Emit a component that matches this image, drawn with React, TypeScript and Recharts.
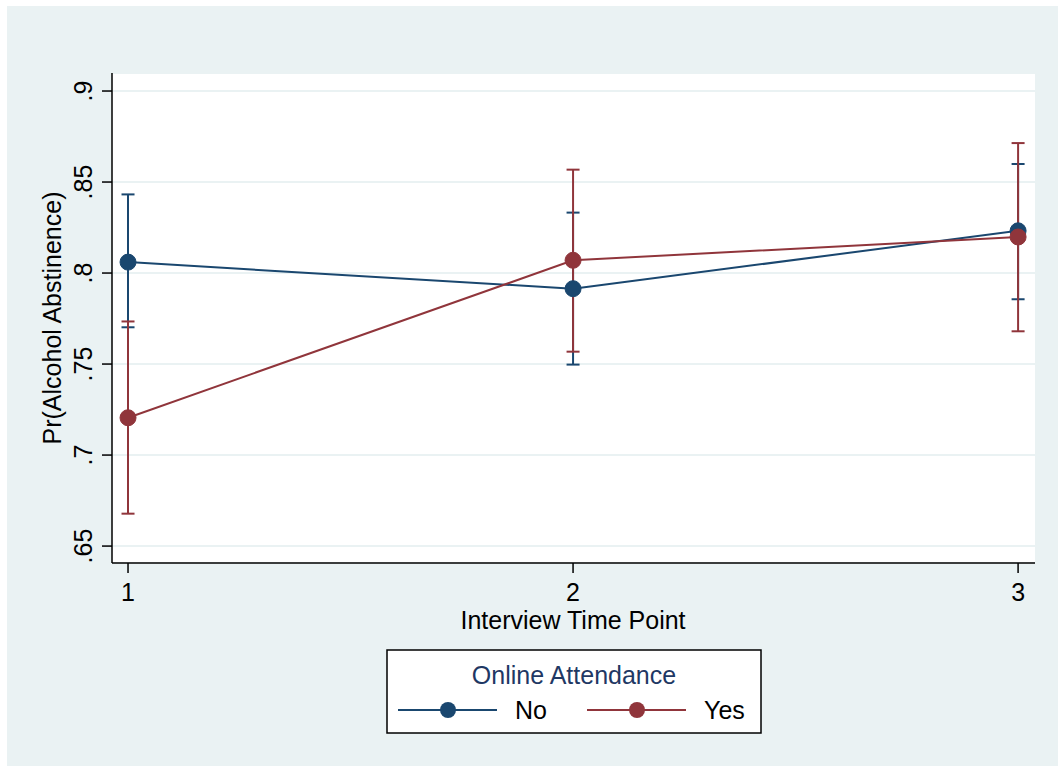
import React from 'react';
import { LineChart, Line, XAxis, YAxis, CartesianGrid, ErrorBar } from 'recharts';

// interview time points
const TIME_POINTS = [1, 2, 3];

// Online Attendance = No
const NO_MEAN = [0.806, 0.7914, 0.8232];
const NO_LOW = [0.7702, 0.7497, 0.7856];
const NO_HIGH = [0.8432, 0.8332, 0.8599];

// Online Attendance = Yes
const YES_MEAN = [0.7205, 0.807, 0.8198];
const YES_LOW = [0.6678, 0.7568, 0.768];
const YES_HIGH = [0.7734, 0.8568, 0.8714];

const Y_TICKS = [0.65, 0.7, 0.75, 0.8, 0.85, 0.9];
const SERIES_NAMES = ['No', 'Yes'];

const NAVY = '#1a476f';
const MAROON = '#90353b';
const BG = '#eaf2f3';
const FONT = '"Liberation Sans", Arial, sans-serif';

const data = TIME_POINTS.map((t, i) => ({
  t,
  no: NO_MEAN[i],
  yes: YES_MEAN[i],
  noErr: [NO_MEAN[i] - NO_LOW[i], NO_HIGH[i] - NO_MEAN[i]],
  yesErr: [YES_MEAN[i] - YES_LOW[i], YES_HIGH[i] - YES_MEAN[i]],
}));

const fmtY = (v: number) => String(v).replace(/^0/, '');

const YTick = (props: any) => {
  const { x, y, payload } = props;
  const bx = x - 8;
  return (
    <text x={bx} y={y} transform={`rotate(-90 ${bx} ${y})`} textAnchor="middle"
      fontFamily={FONT} fontSize={25} fill="#000">
      {fmtY(payload.value)}
    </text>
  );
};

const XTick = (props: any) => {
  const { x, payload } = props;
  return (
    <text x={x} y={601} textAnchor="middle" fontFamily={FONT} fontSize={25} fill="#000">
      {payload.value}
    </text>
  );
};

const Dot = (color: string) => (props: any) => {
  const { cx, cy } = props;
  if (cx == null || cy == null) return null;
  return <circle key={`${cx}-${cy}`} cx={cx} cy={cy} r={8} fill={color} stroke={color} strokeWidth={1} />;
};

const LegendBox = () => {
  const colors = [NAVY, MAROON];
  const itemX = [398, 587];
  return (
    <svg width={1058} height={766} style={{ position: 'absolute', left: 0, top: 0, pointerEvents: 'none' }}>
      {/* axis titles */}
      <text x={61} y={318} transform="rotate(-90 61 318)" textAnchor="middle" fontFamily={FONT} fontSize={25} fill="#000">
        Pr(Alcohol Abstinence)
      </text>
      <text x={573} y={629} textAnchor="middle" fontFamily={FONT} fontSize={25} fill="#000">
        Interview Time Point
      </text>
      {/* legend */}
      <rect x={387} y={650} width={374} height={83} fill="#fff" stroke="#000" strokeWidth={1.5} />
      <text x={574} y={684} textAnchor="middle" fontFamily={FONT} fontSize={25} fill="#1f3864">
        Online Attendance
      </text>
      {SERIES_NAMES.map((name, i) => (
        <g key={name}>
          <line x1={itemX[i]} x2={itemX[i] + 99} y1={710} y2={710} stroke={colors[i]} strokeWidth={2} />
          <circle cx={itemX[i] + 50} cy={710} r={8} fill={colors[i]} />
          <text x={itemX[i] + 117} y={719} fontFamily={FONT} fontSize={25} fill="#000">{name}</text>
        </g>
      ))}
    </svg>
  );
};

export default function App() {
  return (
    <div style={{ position: 'absolute', left: 0, top: 0, width: 1058, height: 766, background: '#fff' }}>
      <div style={{ position: 'absolute', left: 7, top: 6, width: 1051, height: 760, background: BG }} />
      <div style={{ position: 'absolute', left: 0, top: 0 }}>
        <LineChart width={1058} height={766} data={data} margin={{ top: 73, right: 23, bottom: 143, left: 0 }}>
          <CartesianGrid vertical={false} fill="#fff" stroke={BG} strokeWidth={2} />
          <XAxis dataKey="t" type="number" domain={[0.964, 3.038]} ticks={TIME_POINTS}
            allowDataOverflow height={60} tickSize={10} tick={<XTick />}
            axisLine={{ stroke: '#000', strokeWidth: 1.5 }} tickLine={{ stroke: '#000', strokeWidth: 1.5 }} />
          <YAxis type="number" domain={[0.6407, 0.9099]} ticks={Y_TICKS} allowDataOverflow
            width={112} tickSize={10} tick={<YTick />}
            axisLine={{ stroke: '#000', strokeWidth: 1.5 }} tickLine={{ stroke: '#000', strokeWidth: 1.5 }} />
          {/* confidence intervals drawn first, under the lines */}
          <Line dataKey="no" stroke="none" dot={false} activeDot={false} isAnimationActive={false}>
            <ErrorBar dataKey="noErr" direction="y" width={6.5} stroke={NAVY} strokeWidth={2} isAnimationActive={false} />
          </Line>
          <Line dataKey="yes" stroke="none" dot={false} activeDot={false} isAnimationActive={false}>
            <ErrorBar dataKey="yesErr" direction="y" width={6.5} stroke={MAROON} strokeWidth={2} isAnimationActive={false} />
          </Line>
          <Line dataKey="no" name="No" type="linear" stroke={NAVY} strokeWidth={2} dot={Dot(NAVY)} activeDot={false} isAnimationActive={false} />
          <Line dataKey="yes" name="Yes" type="linear" stroke={MAROON} strokeWidth={2} dot={Dot(MAROON)} activeDot={false} isAnimationActive={false} />
        </LineChart>
      </div>
      <LegendBox />
    </div>
  );
}
